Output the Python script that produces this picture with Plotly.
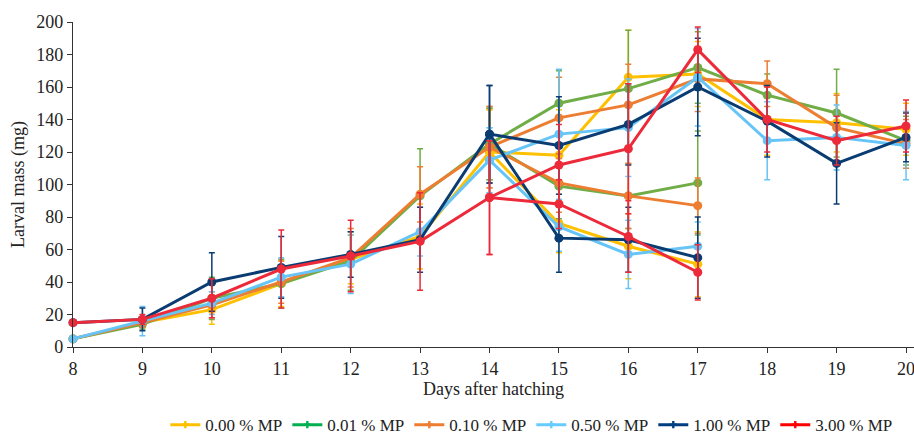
import plotly.graph_objects as go

days = [8, 9, 10, 11, 12, 13, 14, 15, 16, 17, 18, 19, 20]
days_lower = [14, 15, 16, 17]

series_names = ["0.00 % MP", "0.01 % MP", "0.10 % MP", "0.50 % MP", "1.00 % MP", "3.00 % MP"]

mass_000 = [5, 15, 23, 39, 54, 68, 120, 118, 166, 168, 140, 138, 134]
err_000 = [1, 3, 9, 14, 15, 20, 26, 28, 29, 20, 22, 18, 16]
mass_000_low = [120, 76, 62, 51]
err_000_low = [26, 18, 20, 20]

mass_001 = [5, 14, 30, 39, 53, 93, 125, 150, 159, 172, 155, 144, 127]
err_001 = [1, 3, 13, 15, 18, 29, 22, 20, 36, 22, 13, 27, 15]
mass_001_low = [125, 99, 93, 101]
err_001_low = [22, 20, 20, 32]

mass_010 = [5, 15, 26, 40, 55, 94, 123, 141, 149, 165, 162, 135, 125]
err_010 = [1, 3, 8, 13, 18, 17, 25, 25, 25, 20, 14, 20, 15]
mass_010_low = [123, 101, 93, 87]
err_010_low = [25, 18, 20, 17]

mass_050 = [5, 16, 27, 43, 51, 71, 115, 131, 135, 166, 127, 129, 124]
err_050 = [1, 9, 7, 12, 18, 15, 20, 40, 30, 30, 24, 20, 21]
mass_050_low = [115, 74, 57, 62]
err_050_low = [20, 15, 21, 15]

mass_100 = [15, 17, 40, 49, 57, 66, 131, 124, 137, 160, 139, 113, 129]
err_100 = [1, 7, 18, 19, 14, 20, 30, 30, 25, 30, 22, 25, 15]
mass_100_low = [131, 67, 66, 55]
err_100_low = [30, 21, 20, 25]

mass_300 = [15, 17, 30, 48, 56, 65, 92, 112, 122, 183, 140, 127, 136]
err_300 = [1, 3, 12, 24, 22, 30, 35, 25, 40, 14, 20, 15, 16]
mass_300_low = [92, 88, 68, 46]
err_300_low = [35, 15, 22, 17]

line_colors = ["#FFC000", "#70AD47", "#ED7D31", "#66C4F6", "#0A3C72", "#EC2A3A"]
legend_colors = ["#FFC000", "#00B050", "#ED7D31", "#66CCFF", "#003F7F", "#FF0000"]

uppers = [mass_000, mass_001, mass_010, mass_050, mass_100, mass_300]
upper_errs = [err_000, err_001, err_010, err_050, err_100, err_300]
lowers = [mass_000_low, mass_001_low, mass_010_low, mass_050_low, mass_100_low, mass_300_low]
lower_errs = [err_000_low, err_001_low, err_010_low, err_050_low, err_100_low, err_300_low]

FONT = "Liberation Serif, Times New Roman, serif"
FS = 18

fig = go.Figure()
for name, col, up, ue, lo, le in zip(series_names, line_colors, uppers, upper_errs, lowers, lower_errs):
    for xs, ys, es in ((days, up, ue), (days_lower, lo, le)):
        fig.add_trace(go.Scatter(
            x=xs, y=ys, mode="lines+markers", name=name, showlegend=False,
            line=dict(color=col, width=3),
            marker=dict(color=col, size=9),
            error_y=dict(type="data", array=es, visible=True, color=col, thickness=1.5, width=3),
            cliponaxis=False,
        ))

for name, col in zip(series_names, legend_colors):
    fig.add_trace(go.Scatter(
        x=[None], y=[None], mode="lines+markers", name=name,
        line=dict(color=col, width=3),
        marker=dict(color=col, size=6, symbol="cross"),
    ))

fig.update_layout(
    width=914, height=437,
    margin=dict(l=73, r=0, t=22, b=90, autoexpand=False),
    plot_bgcolor="white", paper_bgcolor="white",
    font=dict(family=FONT, size=FS, color="#222"),
    showlegend=True,
    legend=dict(orientation="h", x=0.545, xanchor="center", y=-0.185, yanchor="top",
                font=dict(family=FONT, size=17), itemwidth=30, tracegroupgap=0),
    xaxis=dict(range=[8, 20.115], tickmode="array", tickvals=days, showgrid=False, zeroline=False,
               showline=True, linecolor="#333", linewidth=1.2, ticks="outside", ticklen=5,
               tickcolor="#333", ticklabeloverflow="allow", automargin=False,
               title=dict(text="Days after hatching", font=dict(family=FONT, size=FS), standoff=2)),
    yaxis=dict(range=[0, 200], dtick=20, showgrid=False, zeroline=False,
               showline=True, linecolor="#333", linewidth=1.2, ticks="outside", ticklen=5,
               tickcolor="#333", automargin=False,
               title=dict(text="Larval mass (mg)", font=dict(family=FONT, size=FS), standoff=6)),
)

fig.write_html("out.html")
